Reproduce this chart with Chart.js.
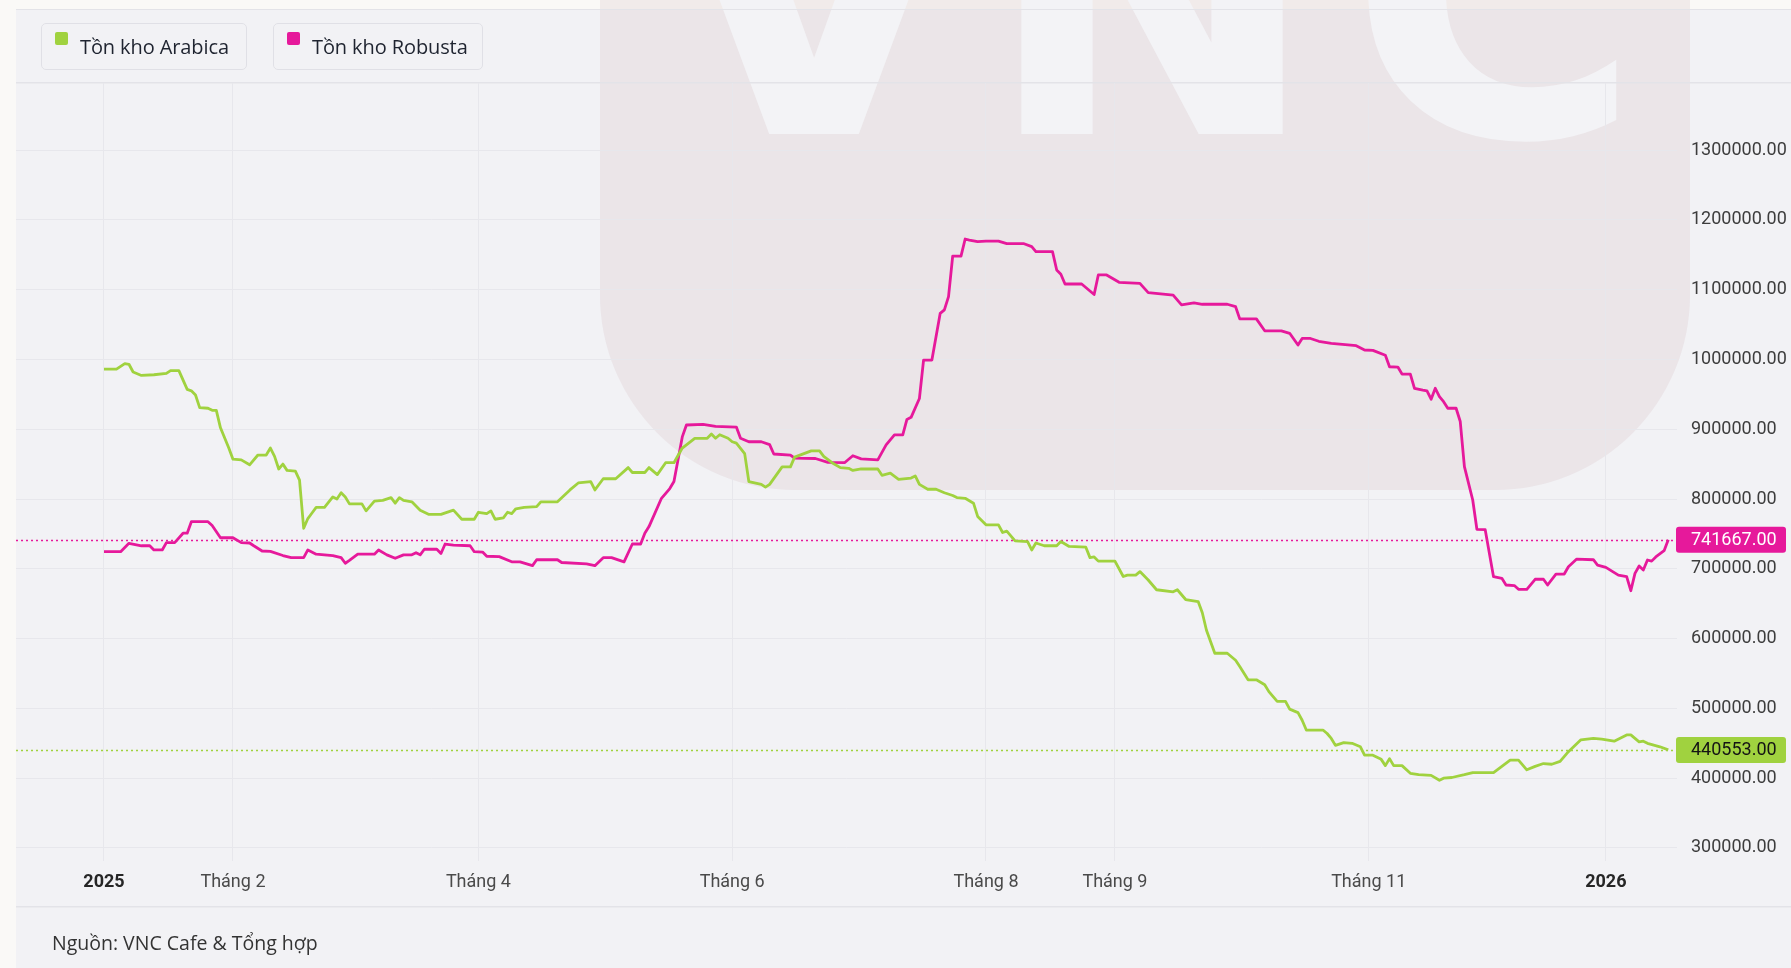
<!DOCTYPE html>
<html><head><meta charset="utf-8">
<script src="https://cdn.jsdelivr.net/npm/chart.js@4.4.1/dist/chart.umd.min.js"></script>
<style>
html,body{margin:0;padding:0;width:1791px;height:968px;overflow:hidden;background:#faf9f7;}
#wrap{position:absolute;left:0;top:0;width:1791px;height:968px;}
canvas{position:absolute;left:0;top:0;}
.leg{position:absolute;top:23px;height:47px;border:1px solid #e0e0e6;border-radius:5px;box-sizing:border-box;font-family:'Open Sans',sans-serif;font-size:20px;font-weight:500;color:#1f2430;}
.leg .sw{position:absolute;left:13px;top:8px;width:13px;height:13px;border-radius:2px;}
.leg .tx{position:absolute;left:38px;top:10px;line-height:26px;white-space:nowrap;letter-spacing:-0.1px;}
#src{position:absolute;left:52px;top:930px;line-height:26px;font-family:'Open Sans',sans-serif;font-size:19.5px;color:#333;white-space:nowrap;}
</style></head>
<body>
<div id="wrap">
<canvas id="c" width="1791" height="968"></canvas>
<div class="leg" style="left:41px;width:206px"><span class="sw" style="background:#a0d23f"></span><span class="tx">Tồn kho Arabica</span></div>
<div class="leg" style="left:273px;width:210px"><span class="sw" style="background:#e6199b"></span><span class="tx">Tồn kho Robusta</span></div>
<div id="src">Nguồn: VNC Cafe &amp; Tổng hợp</div>
</div>
<script>
// ---- data (x = day index counted from 1 Jan 2025) ----
const tickDays   = [0, 31, 90, 151, 212, 243, 304, 361];
const tickLabels = ['2025', 'Tháng 2', 'Tháng 4', 'Tháng 6', 'Tháng 8', 'Tháng 9', 'Tháng 11', '2026'];
const yTicks = [300000, 400000, 500000, 600000, 700000, 800000, 900000, 1000000, 1100000, 1200000, 1300000];

const arabicaDays = [0,3,5,6,7,9,12,15,16,18,20,21,22,23,25,26,27,28,30,31,33,35,37,39,40,41,42,43,44,46,47,48,49,50,51,53,55,56,57,58,59,62,63,65,67,69,70,71,72,74,76,78,81,84,86,89,90,92,93,94,96,97,98,99,101,104,105,109,112,114,117,118,120,123,126,127,130,131,133,135,137,139,142,145,146,147,148,150,151,152,154,155,158,159,160,163,165,166,170,172,173,175,177,179,180,182,184,186,187,189,191,194,195,196,198,200,202,204,205,207,209,210,212,215,216,217,219,222,223,224,226,229,230,232,236,237,238,239,243,245,246,248,249,251,253,257,258,260,263,264,265,267,270,272,273,275,277,279,280,282,284,285,287,288,289,293,294,295,296,298,300,302,303,305,307,308,309,310,312,314,316,319,321,322,324,327,329,334,336,338,340,342,344,346,348,350,352,355,358,360,363,366,367,369,370,371,374,376];
const arabicaValues = [986000,986000,994000,993000,982000,977000,978000,980000,984000,984000,957000,955000,949000,931000,930000,927000,927000,902000,873000,857000,856000,849000,863000,863000,873000,861000,843000,850000,841000,840000,827000,758000,772000,780000,788000,788000,803000,800000,809000,803000,793000,793000,783000,797000,798000,802000,794000,802000,798000,796000,784000,778000,778000,784000,771000,771000,781000,779000,783000,771000,773000,781000,779000,786000,788000,789000,796000,796000,813000,823000,825000,813000,829000,829000,845000,838000,838000,845000,835000,852000,852000,873000,887000,887000,893000,887000,892000,887000,882000,880000,865000,825000,821000,817000,821000,846000,846000,860000,869000,869000,861000,852000,845000,844000,841000,843000,843000,843000,834000,837000,828000,830000,833000,821000,814000,814000,809000,805000,802000,801000,794000,775000,763000,763000,752000,754000,740000,739000,727000,737000,733000,733000,739000,732000,731000,716000,717000,711000,711000,689000,691000,691000,696000,684000,670000,667000,670000,656000,653000,637000,612000,579000,579000,569000,560000,541000,541000,534000,524000,510000,510000,499000,494000,483000,469000,469000,464000,457000,447000,451000,450000,445000,433000,433000,427000,418000,428000,418000,418000,407000,405000,404000,397000,400000,401000,405000,408000,408000,417000,426000,426000,412000,417000,421000,420000,424000,438000,455000,457000,456000,453000,462000,462000,452000,453000,450000,445000,440553];

const robustaDays = [0,4,6,9,11,12,14,15,17,19,20,21,25,26,28,31,33,35,36,38,40,43,45,48,49,51,55,57,58,59,61,65,66,68,70,72,74,75,76,77,80,81,82,84,88,89,91,92,95,98,100,103,104,109,110,116,118,120,122,125,127,129,130,131,134,136,137,139,140,144,147,152,153,155,158,160,161,165,166,171,174,178,180,182,186,188,190,192,193,194,196,197,199,201,202,203,204,206,207,208,210,212,215,217,221,223,224,228,229,230,231,235,236,238,239,241,244,249,251,257,259,262,264,270,272,273,277,279,283,285,287,288,290,292,295,301,303,305,308,309,311,312,314,315,317,318,319,320,321,322,323,325,326,327,329,330,332,334,336,337,339,340,342,344,346,347,349,351,352,354,358,359,361,364,366,367,368,369,370,371,372,373,375,376];
const robustaValues = [724500,724500,736500,733000,733000,727000,727000,737500,737500,751000,751000,767500,767500,762000,744500,744500,737500,737000,733000,725500,725000,719000,716000,716000,727000,721000,719000,716000,708000,712000,721000,721000,727000,720000,715000,720000,720000,723000,720000,728000,728000,722000,735500,734000,733000,724500,724000,718000,717500,710000,710000,704500,713000,713000,709000,707000,704500,716000,716000,710000,735500,735500,751000,760500,801000,815000,825000,889000,906000,907000,904000,903000,887000,882000,882000,878000,864500,863000,858500,858000,852500,852000,862000,857500,856000,877500,892000,892000,914000,917000,944000,999000,999000,1066000,1071000,1090000,1148000,1148000,1172500,1171000,1168600,1169500,1169500,1166000,1166000,1161500,1154300,1154300,1128000,1122000,1108000,1108000,1103000,1093000,1121000,1121000,1110500,1109000,1095600,1092000,1078000,1081000,1079000,1079000,1075500,1058000,1058000,1041000,1041000,1037400,1020600,1030000,1030000,1026000,1023000,1019600,1013500,1013000,1006000,989500,989000,979000,979000,958600,956000,955000,943000,958600,946600,939400,930000,930000,911000,846300,798600,756600,756000,688700,686400,676800,676000,670600,670600,685000,685000,676800,692500,692500,703000,714000,713000,705400,702000,691000,688700,668600,693500,704000,698300,712600,711000,717000,726000,741667];

const seriesNames  = ['Tồn kho Arabica', 'Tồn kho Robusta'];
const seriesColors = ['#a0d23f', '#e6199b'];
const badgeText    = ['#141414', '#ffffff'];

const W = 1791, H = 968;

const bgPlugin = {
  id: 'bg',
  beforeDraw(chart) {
    const ctx = chart.ctx;
    ctx.save();
    ctx.fillStyle = '#faf9f7'; ctx.fillRect(0, 0, W, H);
    ctx.fillStyle = '#f2f2f5'; ctx.fillRect(16, 10, W - 16, H - 10);
    // watermark logo
    ctx.fillStyle = 'rgba(196,152,160,0.15)';
    ctx.beginPath();
    const L = 600, R = 1690, T = -300, B = 490, r = 195;
    ctx.moveTo(L, T); ctx.lineTo(R, T); ctx.lineTo(R, B - r);
    ctx.arcTo(R, B, R - r, B, r); ctx.lineTo(L + r, B);
    ctx.arcTo(L, B, L, B - r, r); ctx.closePath(); ctx.fill();
    ctx.fillStyle = '#f3f3f6';
    ctx.font = 'bold 400px "DejaVu Sans"';
    ctx.textAlign = 'center'; ctx.textBaseline = 'alphabetic';
    ctx.fillText('V', 814, 134); ctx.fillText('N', 1152, 134); ctx.fillText('C', 1495, 136);
    // separators
    ctx.fillStyle = '#e3e3e8';
    ctx.fillRect(16, 9, W - 16, 1);
    ctx.fillRect(16, 82, W - 16, 1.5);
    ctx.fillRect(16, 906, W - 16, 1.5);
    ctx.restore();
  },
  beforeDatasetsDraw(chart) {
    const {ctx, chartArea: a, scales: {y}} = chart;
    ctx.save();
    chart.data.datasets.forEach((ds) => {
      const last = ds.data[ds.data.length - 1];
      const py = Math.round(y.getPixelForValue(last.y)) + 0.5;
      ctx.setLineDash([2, 3]);
      ctx.strokeStyle = ds.borderColor; ctx.lineWidth = 1.3;
      ctx.beginPath(); ctx.moveTo(a.left, py); ctx.lineTo(a.right, py); ctx.stroke();
    });
    ctx.restore();
  },
  afterDraw(chart) {
    const {ctx, chartArea: a, scales: {y}} = chart;
    ctx.save();
    chart.data.datasets.forEach((ds, i) => {
      const last = ds.data[ds.data.length - 1];
      const py = y.getPixelForValue(last.y);
      ctx.fillStyle = ds.borderColor;
      ctx.beginPath();
      ctx.roundRect(a.right - 1, py - 13, 110, 26, 3);
      ctx.fill();
      ctx.fillStyle = badgeText[i];
      ctx.font = '18px Roboto';
      ctx.textAlign = 'left'; ctx.textBaseline = 'middle';
      ctx.fillText(last.y.toFixed(2), a.right + 14, py + 1);
    });
    ctx.restore();
  }
};

const mk = (days, vals) => days.map((d, i) => ({x: d, y: vals[i]}));

new Chart(document.getElementById('c'), {
  type: 'line',
  data: {
    datasets: [
      {label: seriesNames[0], data: mk(arabicaDays, arabicaValues), borderColor: seriesColors[0], borderWidth: 2.8, pointRadius: 0, tension: 0, fill: false, borderJoinStyle: 'round'},
      {label: seriesNames[1], data: mk(robustaDays, robustaValues), borderColor: seriesColors[1], borderWidth: 2.8, pointRadius: 0, tension: 0, fill: false, borderJoinStyle: 'round'}
    ]
  },
  options: {
    responsive: false,
    animation: false,
    devicePixelRatio: 1,
    layout: {padding: {left: 16, top: 83, right: 0, bottom: 0}},
    plugins: {legend: {display: false}, tooltip: {enabled: false}},
    events: [],
    scales: {
      x: {
        type: 'linear', position: 'bottom', min: -21.15, max: 378.1,
        afterFit(s) { s.height = 107; },
        afterBuildTicks(s) { s.ticks = tickDays.map(v => ({value: v})); },
        grid: {color: '#e7e7ec', drawTicks: false, lineWidth: 1},
        border: {display: false},
        ticks: {
          autoSkip: false, maxRotation: 0, padding: 11,
          callback: (v, i) => tickLabels[i],
          color: (c) => (c.index === 0 || c.index === tickDays.length - 1) ? '#262626' : '#4a4a4a',
          font: (c) => ({family: 'Roboto', size: 18, weight: (c.index === 0 || c.index === tickDays.length - 1) ? 'bold' : 'normal'})
        }
      },
      y: {
        type: 'linear', position: 'right', min: 281375, max: 1396000,
        afterFit(s) { s.width = 114; },
        afterBuildTicks(s) { s.ticks = yTicks.map(v => ({value: v})); },
        grid: {color: '#e7e7ec', drawTicks: false, lineWidth: 1},
        border: {display: false},
        ticks: {
          padding: 14, crossAlign: 'near',
          callback: (v) => Number(v).toFixed(2),
          color: '#3d3d3d', font: {family: 'Roboto', size: 18}
        }
      }
    }
  },
  plugins: [bgPlugin]
});
</script>
</body></html>
